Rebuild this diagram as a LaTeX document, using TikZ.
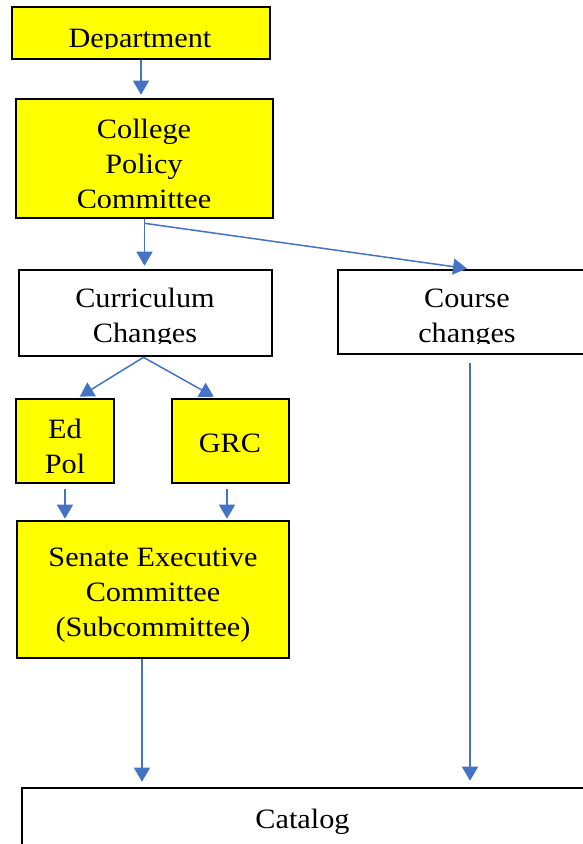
\documentclass[tikz,border=0pt]{standalone}
\usepackage{fontspec}
\setmainfont{Liberation Serif}[FakeStretch=1.08]
\usetikzlibrary{arrows.meta}
\definecolor{arrblue}{RGB}{68,114,196}
\definecolor{boxyellow}{RGB}{255,255,0}
\begin{document}
\begin{tikzpicture}[x=1pt,y=-1pt,
  box/.style={draw=black, line width=2.6pt, rectangle, inner sep=0pt},
  ybox/.style={box, fill=boxyellow},
  wbox/.style={box, fill=white},
  txt/.style={align=center, inner sep=0pt, font=\fontsize{28}{35}\selectfont},
  arr/.style={draw=arrblue, line width=1.5pt, -{Triangle[width=16pt,length=14pt]}}]
\useasboundingbox[fill=white] (0,0) rectangle (582,844);

% boxes
\node[ybox, minimum width=258pt, minimum height=52pt]  (dept)    at (141,33)    {};
\node[ybox, minimum width=257pt, minimum height=119pt] (college) at (144.5,158.5) {};
\node[wbox, minimum width=253pt, minimum height=86pt]  (curr)    at (145.5,313) {};
\node[wbox, minimum width=258pt, minimum height=84pt]  (course)  at (467,312)   {};
\node[ybox, minimum width=98pt,  minimum height=84pt]  (edpol)   at (65,441)    {};
\node[ybox, minimum width=117pt, minimum height=84pt]  (grc)     at (230.5,441) {};
\node[ybox, minimum width=272pt, minimum height=137pt] (senate)  at (153,589.5) {};
\node[wbox, minimum width=562pt, minimum height=60pt]  (catalog) at (303,818)   {};

% texts
\begin{scope}
\clip (dept.north west) rectangle ([yshift=11.5pt]dept.south east);
\node[txt, anchor=base] (deptT) at (140,47) {Department};
\end{scope}
\begin{scope}
\clip (college.north west) rectangle ([yshift=11.8pt]college.south east);
\node[txt] (collegeT) at (144,166) {\strut College\\\strut Policy\\\strut Committee};
\end{scope}
\begin{scope}
\clip (curr.north west) rectangle ([yshift=14.3pt]curr.south east);
\node[txt] (currT) at (145,318) {\strut Curriculum\\\strut Changes};
\end{scope}
\begin{scope}
\clip (course.north west) rectangle ([yshift=12.3pt]course.south east);
\node[txt] (courseT) at (467,318) {\strut Course\\\strut changes};
\end{scope}
\begin{scope}
\clip (edpol.north west) rectangle ([yshift=11.8pt]edpol.south east);
\node[txt] (edpolT) at (65,448.5) {\strut Ed\\\strut Pol};
\end{scope}
\node[txt, anchor=base] (grcT) at (230,452) {GRC};
\node[txt] (senateT) at (153,594) {\strut Senate Executive\\\strut Committee\\\strut (Subcommittee)};
\node[txt, anchor=base] (catalogT) at (302.5,828) {Catalog};

% connectors
\draw[arr, shorten >=3pt] (dept.south) -- (dept.south |- college.north);
\draw[arr, shorten >=3pt] (college.south) -- (college.south |- curr.north);
\draw[arr, shorten >=1pt] ([yshift=-4pt]college.south) -- ([xshift=1pt]course.north);
\draw[arr, shorten >=2pt] ([xshift=-2pt]curr.south) -- ([xshift=13pt]edpol.north);
\draw[arr, shorten >=2pt] ([xshift=-2pt]curr.south) -- ([xshift=-15pt]grc.north);
\draw[arr, shorten >=1pt] ([yshift=-5pt]edpol.south) -- (edpol.south |- senate.north);
\draw[arr, shorten >=1pt] ([shift={(-3.5pt,-5pt)}]grc.south) -- ([xshift=-3.5pt]grc.south |- senate.north);
\draw[arr, shorten >=5pt] ([xshift=-11pt]senate.south) -- ([xshift=-11pt]senate.south |- catalog.north);
\draw[arr, shorten >=6pt] ([shift={(3pt,-8pt)}]course.south) -- ([xshift=3pt]course.south |- catalog.north);
\end{tikzpicture}
\end{document}
